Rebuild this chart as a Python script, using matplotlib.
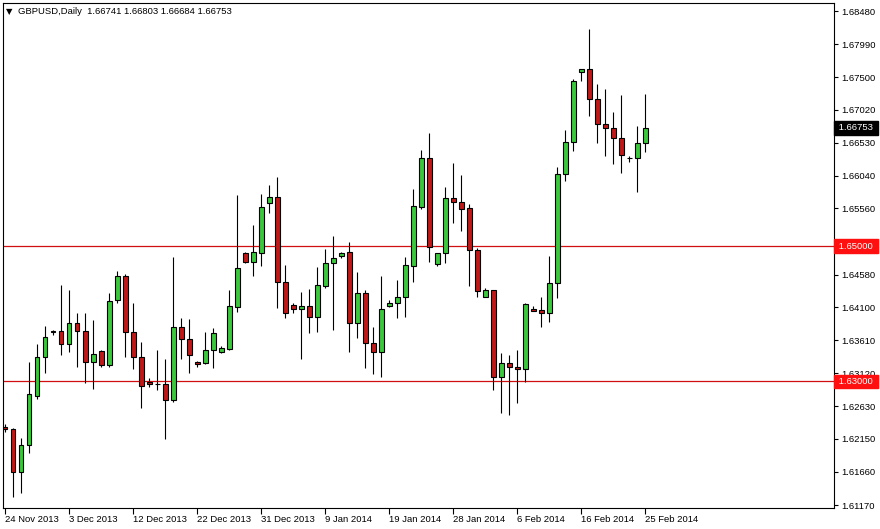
import matplotlib
matplotlib.use("Agg")
import matplotlib.pyplot as plt
import numpy as np

# GBPUSD daily candles, 24 Nov 2013 .. 25 Feb 2014
opens = [1.62324, 1.62295, 1.61658, 1.62058, 1.62783, 1.63360, 1.63730, 1.63745, 1.63553, 1.63864,
         1.63745, 1.63286, 1.63449, 1.63242, 1.64204, 1.64559, 1.63730, 1.63360, 1.62990, 1.62961,
         1.62961, 1.62724, 1.63804, 1.63627, 1.63286, 1.63272, 1.63464, 1.63434, 1.63479, 1.64100,
         1.64900, 1.64766, 1.64900, 1.65640, 1.65728, 1.64470, 1.64130, 1.64071, 1.64115, 1.63952,
         1.64411, 1.64752, 1.64855, 1.64914, 1.63864, 1.64308, 1.63568, 1.63434, 1.64115, 1.64160,
         1.64248, 1.64707, 1.65580, 1.66306, 1.64737, 1.64900, 1.65714, 1.65654, 1.65566, 1.64944,
         1.64248, 1.64352, 1.63064, 1.63272, 1.63212, 1.63183, 1.64071, 1.64056, 1.64012, 1.64456,
         1.66069, 1.66542, 1.67578, 1.67623, 1.67179, 1.66809, 1.66750, 1.66602, 1.66306, 1.66306,
         1.66528]
highs = [1.62369, 1.62310, 1.62162, 1.63286, 1.63553, 1.63819, 1.63760, 1.64426, 1.64352, 1.64012,
         1.64012, 1.63908, 1.63464, 1.64308, 1.64633, 1.64589, 1.64160, 1.63582, 1.63050, 1.63464,
         1.63331, 1.64840, 1.63938, 1.63923, 1.63301, 1.63730, 1.63790, 1.63523, 1.64352, 1.65758,
         1.64914, 1.65314, 1.65773, 1.65906, 1.66024, 1.64722, 1.64160, 1.64322, 1.64367, 1.64692,
         1.64959, 1.65151, 1.64914, 1.65062, 1.64618, 1.64352, 1.63804, 1.64559, 1.64204, 1.64500,
         1.64840, 1.65847, 1.66424, 1.66676, 1.64900, 1.65876, 1.66232, 1.66054, 1.65625, 1.64974,
         1.64382, 1.64352, 1.63420, 1.63390, 1.63464, 1.64160, 1.64115, 1.64248, 1.64855, 1.66172,
         1.66720, 1.67475, 1.67623, 1.68215, 1.67401, 1.67327, 1.66986, 1.67238, 1.66335, 1.66779,
         1.67253]
lows = [1.62250, 1.61288, 1.61348, 1.61940, 1.62739, 1.63124, 1.63686, 1.63390, 1.63434, 1.63212,
        1.62976, 1.62887, 1.63212, 1.63212, 1.64160, 1.63360, 1.63183, 1.62606, 1.62916, 1.62872,
        1.62147, 1.62694, 1.63331, 1.63124, 1.63212, 1.63257, 1.63198, 1.63420, 1.63464, 1.64026,
        1.64752, 1.64559, 1.64707, 1.65492, 1.64086, 1.63938, 1.64012, 1.63331, 1.63716, 1.63730,
        1.64382, 1.63760, 1.64826, 1.63434, 1.63642, 1.63198, 1.63109, 1.63064, 1.64100, 1.63938,
        1.63952, 1.64470, 1.65551, 1.64766, 1.64707, 1.64752, 1.65344, 1.65225, 1.64411, 1.64248,
        1.64248, 1.62872, 1.62532, 1.62502, 1.62680, 1.62990, 1.64041, 1.63804, 1.63878, 1.64234,
        1.65965, 1.66409, 1.67445, 1.66927, 1.66528, 1.66335, 1.66217, 1.66084, 1.66246, 1.65802,
        1.66394]
closes = [1.62295, 1.61658, 1.62058, 1.62813, 1.63360, 1.63656, 1.63752, 1.63553, 1.63864, 1.63745,
          1.63286, 1.63405, 1.63242, 1.64189, 1.64559, 1.63730, 1.63360, 1.62931, 1.62961, 1.62968,
          1.62724, 1.63804, 1.63627, 1.63390, 1.63257, 1.63464, 1.63716, 1.63494, 1.64115, 1.64678,
          1.64766, 1.64914, 1.65580, 1.65728, 1.64470, 1.64012, 1.64071, 1.64115, 1.63952, 1.64426,
          1.64752, 1.64826, 1.64900, 1.63864, 1.64308, 1.63568, 1.63434, 1.64071, 1.64160, 1.64248,
          1.64722, 1.65595, 1.66306, 1.64988, 1.64900, 1.65714, 1.65654, 1.65551, 1.64944, 1.64337,
          1.64352, 1.63064, 1.63272, 1.63212, 1.63183, 1.64145, 1.64041, 1.64012, 1.64456, 1.66069,
          1.66542, 1.67445, 1.67623, 1.67179, 1.66809, 1.66750, 1.66602, 1.66350, 1.66306, 1.66528,
          1.66753]

price_ticks = [1.68480, 1.67990, 1.67500, 1.67020, 1.66530, 1.66040, 1.65560, 1.65070,
               1.64580, 1.64100, 1.63610, 1.63120, 1.62630, 1.62150, 1.61660, 1.61170]
date_labels = ["24 Nov 2013", "3 Dec 2013", "12 Dec 2013", "22 Dec 2013", "31 Dec 2013",
               "9 Jan 2014", "19 Jan 2014", "28 Jan 2014", "6 Feb 2014", "16 Feb 2014",
               "25 Feb 2014"]
date_step = 8
levels = [1.65000, 1.63000]
title = "GBPUSD,Daily  1.66741 1.66803 1.66684 1.66753"

FONT = "Liberation Sans"
BULL = "#3cc83c"
BEAR = "#c01818"

fig = plt.figure(figsize=(8.8, 5.29), dpi=100, facecolor="white")
ax = fig.add_axes([3 / 880, 1 - 508 / 529, 831 / 880, 505 / 529])

o = np.array(opens)
h = np.array(highs)
l = np.array(lows)
c = np.array(closes)
x = np.arange(len(o))
up = c >= o

# wicks, then bodies on top
ax.vlines(x, l, h, color="black", linewidth=0.8, zorder=2)
bottom = np.minimum(o, c)
height = np.abs(c - o)
ax.bar(x[up], height[up], bottom=bottom[up], width=0.62, color=BULL,
       edgecolor="black", linewidth=0.8, zorder=3)
ax.bar(x[~up], height[~up], bottom=bottom[~up], width=0.62, color=BEAR,
       edgecolor="black", linewidth=0.8, zorder=3)

for lv in levels:
    ax.axhline(lv, color="#d01010", linewidth=0.9, zorder=1)

ax.set_xlim(-0.25, 103.6)
ax.set_ylim(1.61126, 1.68600)

# price axis on the right
ax.yaxis.tick_right()
ax.set_yticks(price_ticks)
ax.set_yticklabels(["{:.5f}".format(p) for p in price_ticks])
ax.tick_params(axis="y", direction="out", length=3, width=0.8, pad=2,
               labelsize=6.8, colors="black")
for lab in ax.get_yticklabels():
    lab.set_fontfamily(FONT)

# date axis
xt = np.arange(0, len(o), date_step)[:len(date_labels)]
ax.set_xticks(xt)
ax.set_xticklabels(date_labels)
ax.tick_params(axis="x", direction="out", length=4, width=0.8, pad=1,
               labelsize=6.8)
for lab in ax.get_xticklabels():
    lab.set_ha("left")
    lab.set_fontfamily(FONT)

for s in ax.spines.values():
    s.set_color("black")
    s.set_linewidth(0.8)


# price boxes on the right axis (they sit over the tick label below, as in MT4)
def price_box(val, face):
    ax.text(1.003, val, " {:.5f} ".format(val), transform=ax.get_yaxis_transform(),
            ha="left", va="center", fontsize=6.8, family=FONT, color="white",
            bbox=dict(boxstyle="square,pad=0.25", facecolor=face, edgecolor=face),
            zorder=5, clip_on=False)


price_box(closes[-1], "black")
for lv in levels:
    price_box(lv, "#ff1010")

ax.text(0.004, 0.983, "\u25bc", transform=ax.transAxes, ha="left", va="center",
        fontsize=6, family="DejaVu Sans")
ax.text(0.0185, 0.983, title, transform=ax.transAxes, ha="left", va="center",
        fontsize=6.8, family=FONT)

fig.savefig("out.png", dpi=100, facecolor="white")
